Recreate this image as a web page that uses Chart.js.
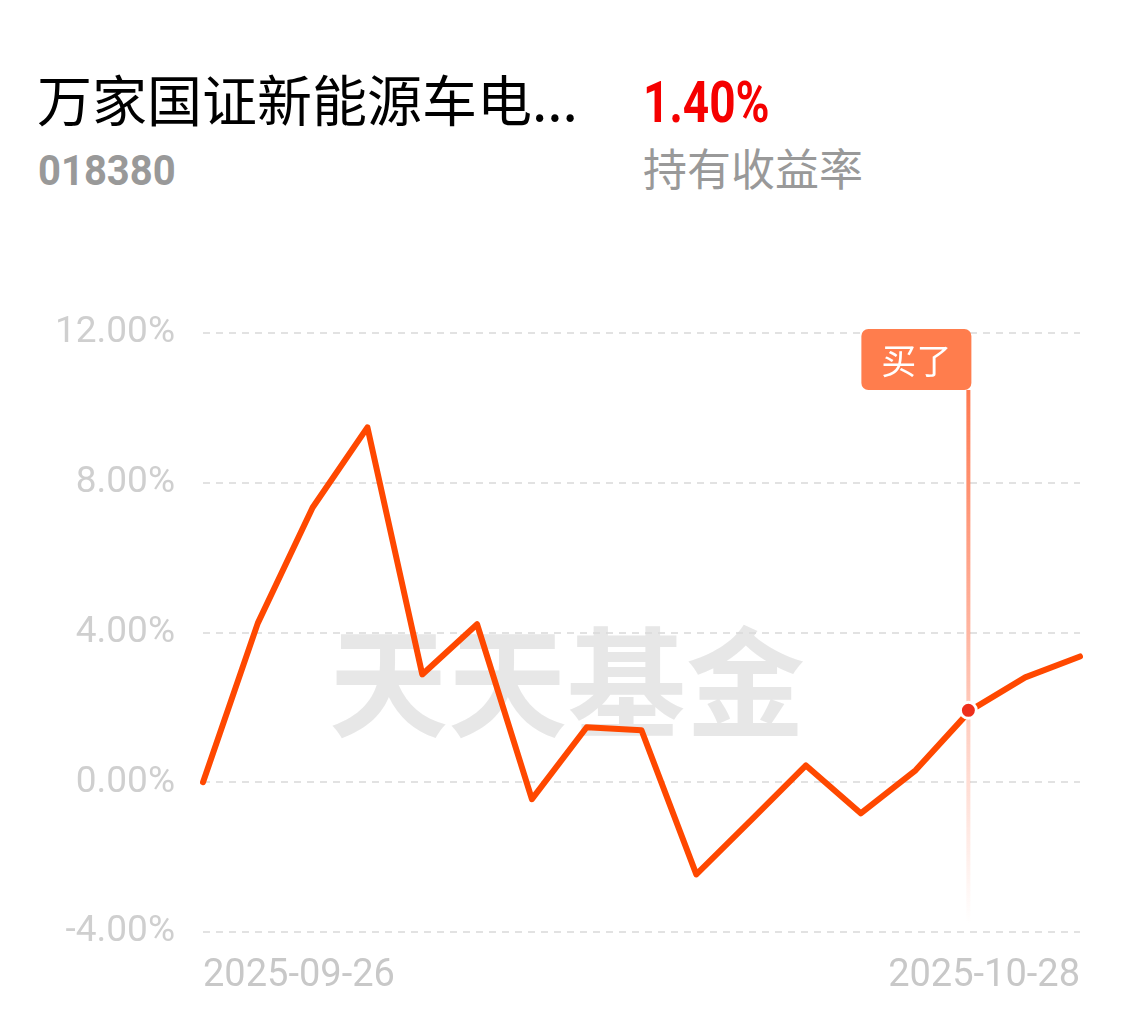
<!DOCTYPE html>
<html>
<head>
<meta charset="utf-8">
<script src="https://cdn.jsdelivr.net/npm/chart.js@4.4.1/dist/chart.umd.min.js"></script>
<style>
  body { margin: 0; background: #fff; width: 1135px; height: 1022px; position: relative; overflow: hidden; }
  .hd { position: absolute; white-space: nowrap; line-height: 1; }
  .fund-name { left: 37px; top: 57px; font: 400 55px "Noto Sans CJK SC", sans-serif; color: #000; }
  .fund-code { left: 38px; top: 145px; font: 700 40px Roboto, sans-serif; color: #999; transform: scaleY(1.08); transform-origin: left top; }
  .rate { left: 643px; top: 68px; font: 700 46px Roboto, sans-serif; color: #f50000; transform: scaleY(1.25); transform-origin: left top; }
  .rate-label { left: 643px; top: 135px; font: 400 44px "Noto Sans CJK SC", sans-serif; color: #999; }
  #chart { position: absolute; left: 0; top: 280px; }
</style>
</head>
<body>
<div class="hd fund-name">万家国证新能源车电...</div>
<div class="hd fund-code">018380</div>
<div class="hd rate">1.40%</div>
<div class="hd rate-label">持有收益率</div>
<canvas id="chart" width="1135" height="742"></canvas>
<script>
// 持有期收益走势 (%)
const dates = ['2025-09-26', '2025-09-29', '2025-09-30', '2025-10-09', '2025-10-10', '2025-10-13',
  '2025-10-14', '2025-10-15', '2025-10-16', '2025-10-17', '2025-10-20', '2025-10-21',
  '2025-10-22', '2025-10-23', '2025-10-24', '2025-10-27', '2025-10-28'];
const returns = [0.00, 4.25, 7.34, 9.48, 2.88, 4.22, -0.45, 1.47, 1.39, -2.46, -1.01, 0.45,
  -0.83, 0.32, 1.92, 2.80, 3.36];
const yTicks = [-4, 0, 4, 8, 12];
const buyDate = '2025-10-24';
const buyText = '买了';
const watermark = '天天基金';

const markerPlugin = {
  id: 'buyMarker',
  beforeDatasetsDraw(chart) {
    const ctx = chart.ctx, area = chart.chartArea;
    // watermark
    ctx.save();
    ctx.font = '700 119px "Noto Sans CJK SC", sans-serif';
    ctx.fillStyle = 'rgba(218,218,218,0.65)';
    ctx.textAlign = 'center';
    ctx.textBaseline = 'middle';
    ctx.fillText(watermark, 567, area.top + 350);
    ctx.restore();
    // vertical line
    const i = dates.indexOf(buyDate);
    const x = chart.scales.x.getPixelForValue(i) - 2;
    const y0 = area.top + 57, y1 = area.bottom - 8;
    const g = ctx.createLinearGradient(0, y0, 0, y1);
    g.addColorStop(0, 'rgba(255,120,78,1)');
    g.addColorStop(0.4, 'rgba(255,130,95,0.65)');
    g.addColorStop(1, 'rgba(255,140,110,0)');
    ctx.save();
    ctx.fillStyle = g;
    ctx.fillRect(x - 2, y0, 4, y1 - y0);
    ctx.restore();
  },
  afterDatasetsDraw(chart) {
    const ctx = chart.ctx, area = chart.chartArea;
    const i = dates.indexOf(buyDate);
    const x = chart.scales.x.getPixelForValue(i) - 2;
    const y = chart.scales.y.getPixelForValue(returns[i]);
    ctx.save();
    // dot
    ctx.beginPath();
    ctx.arc(x, y, 8, 0, Math.PI * 2);
    ctx.fillStyle = '#ee2f1c';
    ctx.fill();
    ctx.lineWidth = 3;
    ctx.strokeStyle = '#fff';
    ctx.stroke();
    // label box
    const bx = x - 107, by = area.top - 4, bw = 110, bh = 61;
    ctx.beginPath();
    ctx.roundRect(bx, by, bw, bh, 7);
    ctx.fillStyle = '#ff7d4d';
    ctx.fill();
    ctx.fillStyle = '#fff';
    ctx.font = '400 35px "Noto Sans CJK SC", sans-serif';
    ctx.textAlign = 'center';
    ctx.textBaseline = 'middle';
    ctx.fillText(buyText, bx + bw / 2, by + bh / 2 + 1);
    ctx.restore();
  }
};

new Chart(document.getElementById('chart'), {
  type: 'line',
  data: {
    labels: dates,
    datasets: [{
      data: returns,
      borderColor: '#ff4800',
      borderWidth: 6,
      borderJoinStyle: 'round',
      borderCapStyle: 'round',
      pointRadius: 0,
      tension: 0,
      fill: false
    }]
  },
  options: {
    responsive: false,
    animation: false,
    layout: { padding: { top: 53, right: 55, bottom: 20, left: 0 } },
    plugins: { legend: { display: false }, tooltip: { enabled: false } },
    scales: {
      x: {
        offset: false,
        grid: { display: false },
        border: { display: false },
        afterFit(scale) { scale.height = 70; },
        ticks: {
          autoSkip: false,
          maxRotation: 0,
          align: 'inner',
          padding: 14,
          color: '#c8c8c8',
          font: { family: 'Roboto', size: 38 },
          callback(v, idx) { return (idx === 0 || idx === dates.length - 1) ? dates[idx] : ''; }
        }
      },
      y: {
        min: yTicks[0],
        max: yTicks[yTicks.length - 1],
        afterFit(scale) { scale.width = 203; },
        afterBuildTicks(scale) { scale.ticks = yTicks.map(v => ({ value: v })); },
        grid: { color: '#e2e2e2', lineWidth: 2, drawTicks: false },
        border: { display: false, dash: [7, 6] },
        ticks: {
          padding: 28,
          color: '#cfcfcf',
          font: { family: 'Roboto', size: 37, weight: 400 },
          callback(v) { return v.toFixed(2) + '%'; }
        }
      }
    }
  },
  plugins: [markerPlugin]
});
</script>
</body>
</html>
